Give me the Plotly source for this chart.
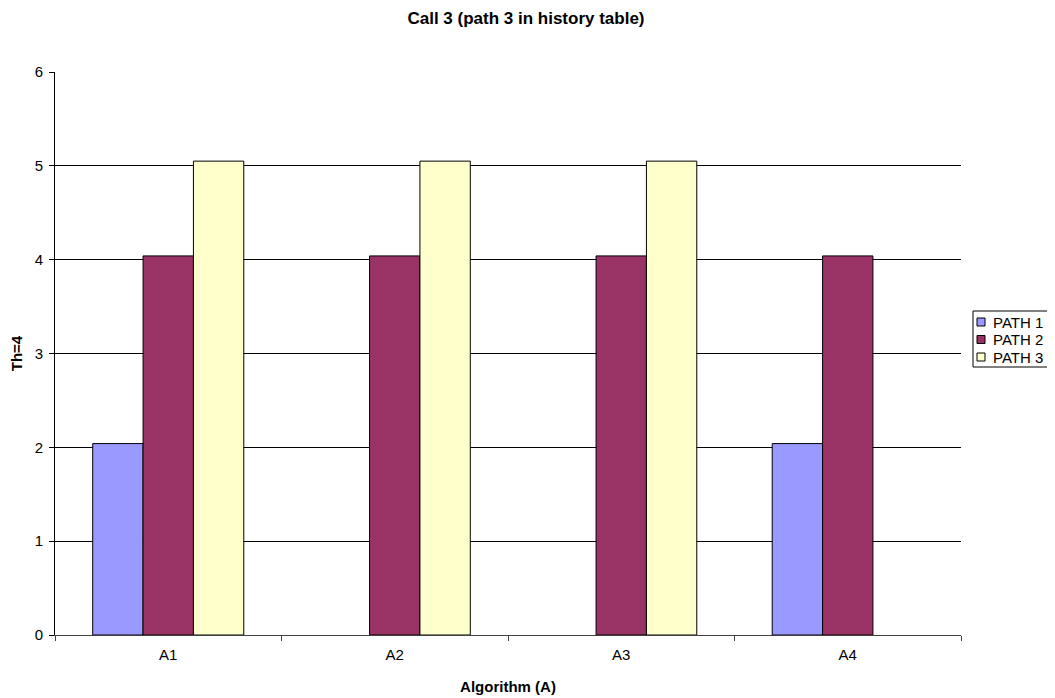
import plotly.graph_objects as go

categories = ["A1", "A2", "A3", "A4"]
path1 = [2.04, None, None, 2.04]
path2 = [4.04, 4.04, 4.04, 4.04]
path3 = [5.05, 5.05, 5.05, None]
series_names = ["PATH 1", "PATH 2", "PATH 3"]
colors = ["#9999FF", "#993366", "#FFFFCC"]

# figure geometry (page body has an 8px margin)
W, H = 1047, 690
ML, MR, MT, MB = 47, 94, 64, 63
PW, PH = W - ML - MR, H - MT - MB

def px(x):
    return (x - ML) / PW

def py(y):
    return 1 - (y - MT) / PH

FONT = "Liberation Sans, Arial, sans-serif"

fig = go.Figure()
for name, vals, col in zip(series_names, [path1, path2, path3], colors):
    fig.add_trace(go.Bar(
        x=categories, y=vals, name=name,
        marker=dict(color=col, line=dict(color="black", width=1)),
        showlegend=False,
    ))

# custom legend (box + swatches + labels)
shapes = [dict(type="rect", xref="paper", yref="paper",
               x0=px(965), x1=px(1041), y0=py(303), y1=py(359),
               line=dict(color="black", width=1), fillcolor="white", layer="above")]
annotations = []
for i, (name, col) in enumerate(zip(series_names, colors)):
    cy = 314 + i * 17.5
    shapes.append(dict(type="rect", xref="paper", yref="paper",
                       x0=px(969), x1=px(977), y0=py(cy - 4), y1=py(cy + 4),
                       line=dict(color="black", width=1), fillcolor=col, layer="above"))
    annotations.append(dict(xref="paper", yref="paper", x=px(983), y=py(cy),
                            xanchor="left", yanchor="middle", showarrow=False,
                            text=name, font=dict(size=15, family=FONT, color="black")))

fig.update_layout(
    width=W, height=H,
    paper_bgcolor="white", plot_bgcolor="white",
    font=dict(family=FONT, size=15, color="black"),
    title=dict(text="<b>Call 3 (path 3 in history table)</b>", x=px(518), xref="paper",
               xanchor="center", y=1 - 10 / H, yanchor="middle", font=dict(size=17)),
    margin=dict(l=ML, r=MR, t=MT, b=MB, autoexpand=False),
    barmode="group", bargap=0.333, bargroupgap=0,
    shapes=shapes, annotations=annotations,
    showlegend=False,
)
fig.update_xaxes(
    title=dict(text="<b>Algorithm (A)</b>", standoff=19, font=dict(size=15)),
    showline=True, linecolor="#404040", linewidth=1,
    ticks="outside", tickson="boundaries", ticklen=5, tickcolor="#404040",
    ticklabelstandoff=6,
    showgrid=False, automargin=False,
)
fig.update_yaxes(
    title=dict(text="<b>Th=4</b>", standoff=12, font=dict(size=15)),
    range=[0, 6], dtick=1, tick0=0,
    showline=True, linecolor="black", linewidth=1,
    ticks="outside", ticklen=5, tickcolor="black",
    ticklabelstandoff=3,
    showgrid=True, gridcolor="black", gridwidth=1,
    zeroline=False, automargin=False,
)

fig.write_html("out.html")
